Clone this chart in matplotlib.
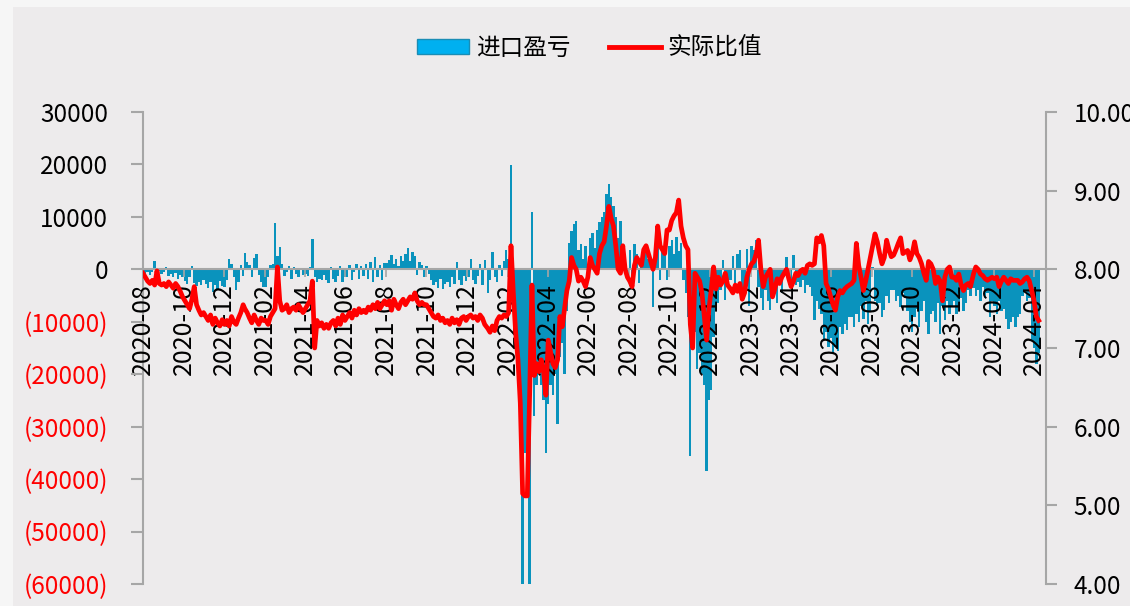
import matplotlib
matplotlib.use("Agg")
import matplotlib.pyplot as plt
import matplotlib.dates as mdates
from matplotlib.patches import Patch, Rectangle
from matplotlib.lines import Line2D
import pandas as pd
import numpy as np

plt.rcParams['font.family'] = ['Noto Sans CJK SC', 'DejaVu Sans']

# ---------------- data (half-weekly samples) ----------------
# 进口盈亏 (left axis)
profit_2020 = [
    -300, -800, -600, -1000, -500, 1500, -700, -400, -900,          # Aug
    -600, 400, -1200, -900, -1500, -700, -1800, -1100, -1400,       # Sep
    -2200, -2800, -1500, 600, -2600, -3200, -2400, -3000, -2000,    # Oct
    -2800, -3500, -2500, -4300, -3000, -3800, -2200, -3200,         # Nov
    -3400, -2000, 2000, 1100, -1500, -4000, -2500, 800, -1200,      # Dec
]
profit_2021 = [
    3200, 1400, 900, -1500, 2200, 3000, -1000, -2500, -3400,        # Jan
    -3400, -1500, 800, 1000, 8800, 2500, 4300, 1000,                # Feb
    -1200, -600, 700, -1800, 500, -900, -1500, 300, -1000,          # Mar
    -800, -1200, 400, 5700, -1500, -2400, -1800, -2100, -1000,      # Apr
    -2000, -2700, 500, -1800, -2400, -1200, 700, -2500, -1500,      # May
    -1500, 800, -2000, -600, 1000, -1800, 600, -1200,               # Jun
    1000, -1800, 1400, -2400, 2300, -1500, 800, -2000, 1200,        # Jul
    1200, 1800, 2800, 1000, 2000, 600, 2500, 1500, 3000,            # Aug
    4100, 1500, 3300, 2500, -1000, 1400, 800, -1500,                # Sep
    600, -800, -2000, -3000, -2500, -3500, -1800, -3800, -2800,     # Oct
    -2500, -3400, -1500, -2800, 1400, -2000, -3000, -1200, -2200,   # Nov
    -1500, 2000, -2000, -2800, -1200, 1000, -3000, 1700,            # Dec
]
profit_2022 = [
    -4600, -2000, 3300, -1500, -2500, 800, -1200, 1500, 3600,                 # Jan
    2000, 19800, -3000, -15000, -20000, -25000, -62000, -35000,               # Feb
    -40000, -62000, 10900, -28000, -22000, -18000, -22000, -25000, -35000,    # Mar
    -25600, -22000, -24000, -20000, -29400, -16700, -14000, -20000, -8000,    # Apr
    5000, 7400, 8700, 9300, 3600, 4900, 2000, 4500, -1500,                    # May
    6000, 7000, 4000, 7500, 9000, 10000, 11000, 14400,                        # Jun
    16300, 13800, 12000, 10000, 6000, 9300, 4000, 3000, -1500,                # Jul
    3600, -2000, 4900, 3000, -2700, 1500, 3500, 4300, 2000,                   # Aug
    2000, -7200, 3600, 5000, -2000, 4500, 6000, -2100,                        # Sep
    4500, 5500, 3000, 6200, 3500, 5000, -2100, -4600, -9000,                  # Oct
    -35500, -15000, -12000, -19000, -16000, -20000, -22000, -38400, -25000,   # Nov
    -23000, -12900, -8000, -6500, -4000, 1700, -5900, -3000,                  # Dec
]
profit_2023 = [
    -2000, 2500, -2700, 3000, 3600, -5000, -3400, 3900, -7000,                # Jan
    4500, 3600, 5500, -3400, -5500, -7800, -4000, -6000,                      # Feb
    -7800, -5000, -3000, -6500, -2000, -4500, -1500, 2300, -3000,             # Mar
    -2000, 2700, -3000, -2500, -3400, -2000, -4600, -3000, -3400,             # Apr
    -5000, -9700, -6000, -7500, -8500, -13500, -12000, -14800, -13000,        # May
    -16100, -14800, -15500, -11000, -12300, -10400, -11600, -9000,            # Jun
    -9000, -11000, -8500, -10000, -7000, -9500, -6000, -10500, -8000,         # Jul
    500, -6000, -7000, -6500, -9100, -7800, -5000, -6500, -4000,              # Aug
    -4000, -6000, -5000, -7200, -4500, -5500, -8000, -10000,                  # Sep
    -12000, -9000, -7500, -11000, -8000, -6000, -10000, -12300, -8500,        # Oct
    -8000, -10000, -6500, -12300, -7000, -9700, -6000, -8500, -7000,          # Nov
    -6000, -8500, -7000, -5500, -8000, -6500, -4000, -5000,                   # Dec
]
profit_2024 = [
    -3500, -5000, -4000, -6000, -3400, -5500, -4500, -9100, -6000,            # Jan
    -7000, -8500, -6000, -8000, -7500, -9500, -11300, -10000, -9000,          # Feb
    -11000, -9000, -8500, -5000, -4000, -6000, -5500, -13500,                 # Mar
    -15000, -18000, -16000,                                                   # Apr
]

# 实际比值 (right axis)
ratio_2020 = [
    7.95, 7.9, 7.85, 7.82, 7.86, 7.8, 7.98, 7.82, 7.8,
    7.82, 7.78, 7.84, 7.8, 7.76, 7.82, 7.78, 7.72, 7.65,
    7.6, 7.55, 7.5, 7.62, 7.78, 7.55, 7.48, 7.42, 7.45,
    7.4, 7.35, 7.42, 7.3, 7.38, 7.32, 7.28, 7.36,
    7.3, 7.35, 7.28, 7.4, 7.33, 7.3, 7.38, 7.45, 7.55,
]
ratio_2021 = [
    7.5, 7.45, 7.38, 7.32, 7.42, 7.35, 7.3, 7.38, 7.35,
    7.35, 7.3, 7.4, 7.45, 7.5, 8.03, 7.6, 7.48,
    7.5, 7.55, 7.45, 7.5, 7.52, 7.48, 7.55, 7.5, 7.45,
    7.5, 7.55, 7.6, 7.85, 7.0, 7.35, 7.28, 7.32, 7.25,
    7.3, 7.25, 7.32, 7.35, 7.28, 7.38, 7.3, 7.42, 7.35,
    7.4, 7.45, 7.38, 7.48, 7.42, 7.5, 7.45, 7.48,
    7.45, 7.52, 7.48, 7.55, 7.5, 7.58, 7.5, 7.55, 7.6,
    7.55, 7.6, 7.48, 7.62, 7.55, 7.5, 7.58, 7.62, 7.55,
    7.6, 7.65, 7.62, 7.7, 7.6, 7.55, 7.58, 7.55,
    7.55, 7.5, 7.45, 7.4, 7.38, 7.42, 7.35, 7.38, 7.32,
    7.35, 7.3, 7.38, 7.32, 7.36, 7.3, 7.38, 7.4, 7.35,
    7.4, 7.42, 7.38, 7.4, 7.35, 7.42, 7.38, 7.3,
]
ratio_2022 = [
    7.25, 7.2, 7.28, 7.22, 7.35, 7.4, 7.38, 7.42, 7.4,
    7.45, 8.3, 7.7, 7.2, 6.85, 6.3, 5.15, 5.12,
    5.12, 6.4, 7.8, 6.65, 6.8, 6.7, 6.85, 6.7, 6.4,
    7.1, 6.95, 6.8, 6.75, 6.85, 7.4, 7.27, 7.5, 7.73,
    7.85, 8.15, 8.05, 8.0, 7.85, 7.9, 7.85, 7.78, 7.9,
    8.15, 8.05, 8.0, 7.95, 8.2, 8.3, 8.35, 8.55,
    8.8, 8.65, 8.55, 8.3, 8.0, 7.95, 8.3, 8.0, 7.9,
    7.85, 7.78, 8.05, 8.15, 8.1, 8.05, 8.25, 8.3, 8.2,
    8.1, 8.0, 8.15, 8.55, 8.3, 8.25, 8.2, 8.5,
    8.5, 8.62, 8.68, 8.72, 8.88, 8.55, 8.4, 8.3, 8.25,
    7.3, 7.0, 7.95, 7.9, 7.85, 7.7, 7.4, 7.1, 7.5,
    7.75, 8.03, 7.75, 7.9, 7.8, 7.85, 7.95, 7.8,
]
ratio_2023 = [
    7.75, 7.7, 7.8, 7.72, 7.82, 7.62, 7.7, 7.9, 8.0,
    8.07, 8.1, 8.2, 8.37, 8.0, 7.78, 7.9, 7.95,
    8.0, 7.65, 7.75, 7.88, 7.82, 7.9, 7.95, 8.0, 7.88,
    7.78, 7.85, 7.95, 7.92, 7.98, 8.0, 7.95, 8.05, 8.07,
    8.05, 8.07, 8.4, 8.35, 8.43, 8.3, 7.82, 7.75, 7.65,
    7.55, 7.48, 7.65, 7.73, 7.7, 7.75, 7.78, 7.8,
    7.82, 7.86, 8.33, 8.05, 7.9, 7.73, 7.85, 8.0, 8.15,
    8.3, 8.45, 8.35, 8.2, 8.07, 8.15, 8.37, 8.25, 8.16,
    8.18, 8.25, 8.33, 8.4, 8.2, 8.22, 8.24, 8.12,
    8.2, 8.35, 8.2, 8.15, 8.07, 7.95, 7.86, 8.1, 8.07,
    8.0, 7.82, 7.9, 7.85, 7.6, 7.9, 8.0, 8.03, 7.9,
    7.9, 7.86, 7.94, 7.8, 7.73, 7.8, 7.82, 7.78,
]
ratio_2024 = [
    7.94, 8.03, 8.0, 7.94, 7.92, 7.88, 7.86, 7.88, 7.9,
    7.88, 7.9, 7.78, 7.85, 7.9, 7.86, 7.82, 7.88, 7.86,
    7.86, 7.86, 7.82, 7.84, 7.88, 7.9, 7.85, 7.73,
    7.6, 7.4, 7.35,
]

year_starts = ['2020-08-01', '2021-01-01', '2022-01-01', '2023-01-01', '2024-01-01']
profit_years = [profit_2020, profit_2021, profit_2022, profit_2023, profit_2024]
ratio_years = [ratio_2020, ratio_2021, ratio_2022, ratio_2023, ratio_2024]

def build(series_list):
    idx, vals = [], []
    for start, arr in zip(year_starts, series_list):
        d = pd.date_range(start, periods=len(arr), freq='84h')
        idx.extend(d)
        vals.extend(arr)
    return pd.Series(vals, index=pd.DatetimeIndex(idx))

profit = build(profit_years)
ratio = build(ratio_years)

# ---------------- figure ----------------
W, H = 1130, 606
fig = plt.figure(figsize=(W / 100, H / 100), dpi=100)
fig.patch.set_facecolor('#F6F6F6')
bg = Rectangle((13 / W, 0), 1, (H - 7) / H, transform=fig.transFigure,
               facecolor='#EDEBEC', edgecolor='none', zorder=-10)
fig.add_artist(bg)

ax = fig.add_axes([143 / W, 1 - 584 / H, (1046 - 143) / W, (584 - 112) / H])
ax.set_facecolor('none')
ax.set_zorder(1)
ax.set_axisbelow(False)
ax2 = ax.twinx()
ax2.set_facecolor('none')
ax2.set_zorder(2)

bar_color = '#0A93BD'
ax.bar(profit.index, profit.values, width=3.5, color=bar_color, linewidth=0, zorder=2)

ax2.plot(ratio.index, ratio.values, color='#FF0000', lw=3.4, solid_joinstyle='round', zorder=3)

# x axis
ax.set_xlim(pd.Timestamp('2020-08-01'), pd.Timestamp('2024-04-19'))
ax.xaxis.set_major_locator(mdates.MonthLocator(bymonth=(2, 4, 6, 8, 10, 12)))
ax.xaxis.set_major_formatter(mdates.DateFormatter('%Y-%m'))
ax.spines['bottom'].set_position(('data', 0))
ax.spines['bottom'].set_color('#A6A6A6')
ax.spines['bottom'].set_linewidth(1.5)
ax.tick_params(axis='x', direction='out', length=6, width=1.2, color='#A6A6A6',
               labelsize=18, labelrotation=90, pad=4, labelcolor='black')
for lbl in ax.get_xticklabels():
    lbl.set_ha('center')
    lbl.set_va('top')

# left axis
ax.set_ylim(-60000, 30000)
lticks = list(range(-60000, 30001, 10000))
ax.set_yticks(lticks)
ax.set_yticklabels([f"({-v})" if v < 0 else f"{v}" for v in lticks])
for v, lbl in zip(lticks, ax.get_yticklabels()):
    lbl.set_color('#FF0000' if v < 0 else 'black')
ax.tick_params(axis='y', direction='out', length=9, width=1.5, color='#A6A6A6',
               labelsize=17.5, pad=16)
ax.spines['left'].set_color('#A6A6A6')
ax.spines['left'].set_linewidth(1.5)
for s in ('top', 'right'):
    ax.spines[s].set_visible(False)

# right axis
ax2.set_ylim(4, 10)
rticks = [4, 5, 6, 7, 8, 9, 10]
ax2.set_yticks(rticks)
ax2.set_yticklabels([f"{v:.2f}" for v in rticks])
ax2.tick_params(axis='y', direction='out', length=8, width=1.5, color='#A6A6A6',
                labelsize=17.5, pad=12, labelcolor='black')
ax2.spines['right'].set_color('#A6A6A6')
ax2.spines['right'].set_linewidth(1.5)
for s in ('top', 'left', 'bottom'):
    ax2.spines[s].set_visible(False)

# legend
handles = [Patch(facecolor='#00B0F0', edgecolor='#1A8DB5', linewidth=1.0),
           Line2D([0], [0], color='#FF0000', lw=3.5)]
fig.legend(handles, ['进口盈亏', '实际比值'], loc='center', bbox_to_anchor=(0.522, 0.92),
           ncol=2, frameon=False, fontsize=17, handlelength=2.2, handleheight=0.6,
           handletextpad=0.3, columnspacing=1.6)

fig.savefig('out.png', dpi=100, facecolor=fig.get_facecolor())
